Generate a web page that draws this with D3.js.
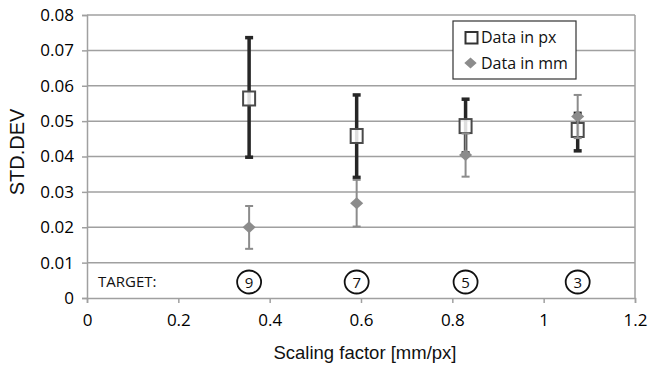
<!DOCTYPE html>
<html>
<head>
<meta charset="utf-8">
<script src="https://cdnjs.cloudflare.com/ajax/libs/d3/7.8.5/d3.min.js"></script>
<style>
body { margin: 0; background: #fff; }
svg text { font-family: "Open Sans", "Noto Sans", sans-serif; }
</style>
</head>
<body>
<svg id="chart" width="648" height="369"></svg>
<script>
// scaling factor of each measured target
var scaling = [0.355, 0.5905, 0.829, 1.0745];
var targets = ["9", "7", "5", "3"];

// "Data in px" series
var pxMean = [0.0564, 0.0458, 0.0486, 0.0475];
var pxLow = [0.0398, 0.0341, 0.0410, 0.0416];
var pxHigh = [0.0736, 0.0574, 0.0562, 0.0522];

// "Data in mm" series
var mmMean = [0.0200, 0.0268, 0.0404, 0.0513];
var mmLow = [0.0139, 0.0202, 0.0343, 0.0452];
var mmHigh = [0.0260, 0.0334, 0.0465, 0.0574];

var xTicks = [0, 0.2, 0.4, 0.6, 0.8, 1, 1.2];
var yTicks = [0, 0.01, 0.02, 0.03, 0.04, 0.05, 0.06, 0.07, 0.08];

var svg = d3.select("#chart");
var x = d3.scaleLinear().domain([0, 1.2]).range([87, 635]);
var y = d3.scaleLinear().domain([0, 0.08]).range([298, 15]);

var grid = "#a0a0a0";

// horizontal gridlines
svg.append("g").selectAll("line").data(yTicks.slice(1)).enter().append("line")
	.attr("x1", x(0)).attr("x2", x(1.2))
	.attr("y1", function(d) { return y(d); }).attr("y2", function(d) { return y(d); })
	.style("stroke", grid).style("stroke-width", 1.5);

// right border
svg.append("line")
	.attr("x1", x(1.2)).attr("x2", x(1.2)).attr("y1", y(0.08)).attr("y2", y(0))
	.style("stroke", grid).style("stroke-width", 1.5);

// axes
var xAxis = d3.axisBottom(x).tickValues(xTicks).tickSize(5).tickPadding(11)
	.tickFormat(function(d) { return d3.format("")(d); });
var yAxis = d3.axisLeft(y).tickValues(yTicks).tickSize(5).tickPadding(8)
	.tickFormat(function(d) { return d === 0 ? "0" : d3.format(".2f")(d); });

var gx = svg.append("g").attr("transform", "translate(0," + y(0) + ")").call(xAxis);
var gy = svg.append("g").attr("transform", "translate(" + x(0) + ",0)").call(yAxis);
[gx, gy].forEach(function(g) {
	g.attr("font-family", null).attr("font-size", 17);
	g.select(".domain").style("stroke", grid).style("stroke-width", 1.5);
	g.selectAll(".tick line").style("stroke", grid).style("stroke-width", 1.5);
	g.selectAll(".tick text").style("font-size", "17px").style("fill", "#000");
});

// axis titles
svg.append("text").attr("x", 365).attr("y", 359).attr("text-anchor", "middle")
	.style("font-family", "Liberation Sans, Arial, sans-serif").style("font-size", "18.5px").style("fill", "#111")
	.text("Scaling factor [mm/px]");
svg.append("text").attr("transform", "translate(24,152) rotate(-90)").attr("text-anchor", "middle")
	.style("font-family", "Liberation Sans, Arial, sans-serif").style("font-size", "20px").style("fill", "#111")
	.text("STD.DEV");

// target labels
svg.append("text").attr("x", 98).attr("y", 287).style("font-size", "15px").style("fill", "#111")
	.text("TARGET:");
var tg = svg.append("g").selectAll("g").data(targets).enter().append("g")
	.attr("transform", function(d, i) { return "translate(" + x(scaling[i]) + ",282)"; });
tg.append("ellipse").attr("rx", 12).attr("ry", 11.5)
	.style("fill", "none").style("stroke", "#111").style("stroke-width", 1.8);
tg.append("text").attr("y", 5.5).attr("text-anchor", "middle").style("font-size", "15px").style("fill", "#111")
	.text(function(d) { return d; });

var idx = d3.range(scaling.length);

// draw one error-bar series
function errorBars(low, high, color, width, capW) {
	var g = svg.append("g");
	g.selectAll("line.v").data(idx).enter().append("line")
		.attr("x1", function(i) { return x(scaling[i]); }).attr("x2", function(i) { return x(scaling[i]); })
		.attr("y1", function(i) { return y(low[i]); }).attr("y2", function(i) { return y(high[i]); })
		.style("stroke", color).style("stroke-width", width);
	[low, high].forEach(function(arr) {
		g.selectAll(null).data(idx).enter().append("line")
			.attr("x1", function(i) { return x(scaling[i]) - capW / 2; })
			.attr("x2", function(i) { return x(scaling[i]) + capW / 2; })
			.attr("y1", function(i) { return y(arr[i]); }).attr("y2", function(i) { return y(arr[i]); })
			.style("stroke", color).style("stroke-width", width);
	});
}

errorBars(pxLow, pxHigh, "#262626", 3.5, 8);

// squares for px data
svg.append("g").selectAll("rect").data(idx).enter().append("rect")
	.attr("x", function(i) { return x(scaling[i]) - 6; })
	.attr("y", function(i) { return y(pxMean[i]) - 7; })
	.attr("width", 12).attr("height", 14)
	.style("fill", "#fff").style("fill-opacity", 0.85)
	.style("stroke", "#4a4a4a").style("stroke-width", 2);

errorBars(mmLow, mmHigh, "#8c8c8c", 2, 8);

// diamonds for mm data
svg.append("g").selectAll("path").data(idx).enter().append("path")
	.attr("d", d3.symbol().type(d3.symbolDiamond2).size(90))
	.attr("transform", function(i) { return "translate(" + x(scaling[i]) + "," + y(mmMean[i]) + ") scale(1.1,1)"; })
	.style("fill", "#8c8c8c");

// legend
var lg = svg.append("g").attr("transform", "translate(453,21)");
lg.append("rect").attr("width", 123).attr("height", 58)
	.style("fill", "#fff").style("stroke", "#333").style("stroke-width", 1.2);
lg.append("rect").attr("x", 12.5).attr("y", 11).attr("width", 12).attr("height", 11.5)
	.style("fill", "#fff").style("stroke", "#333").style("stroke-width", 2);
lg.append("text").attr("x", 28).attr("y", 21.5).style("font-size", "16px").style("fill", "#111").text("Data in px");
lg.append("path").attr("d", d3.symbol().type(d3.symbolDiamond2).size(80))
	.attr("transform", "translate(17.5,42) scale(1.1,1)").style("fill", "#8c8c8c");
lg.append("text").attr("x", 28).attr("y", 48).style("font-size", "16px").style("fill", "#111").text("Data in mm");
</script>
</body>
</html>
